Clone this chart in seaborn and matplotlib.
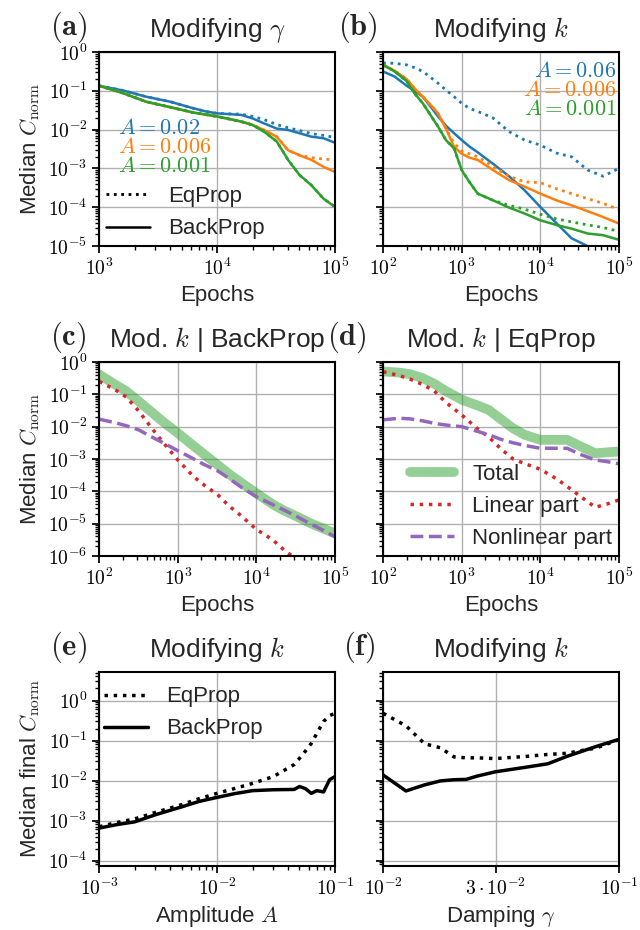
import numpy as np
import pandas as pd
import seaborn as sns
import matplotlib.pyplot as plt
from matplotlib.lines import Line2D
from matplotlib.ticker import NullLocator, LogLocator, FuncFormatter, NullFormatter

# ---- data ----
# (a) modifying gamma
epochs_a = [1000, 1600, 2500, 4000, 6300, 8000, 10000, 16000, 20000, 25000,
            32000, 40000, 50000, 63000, 80000, 100000]
a_blue_bp = [0.135, 0.102, 0.0708, 0.0525, 0.0355, 0.0295, 0.0263, 0.0240, 0.0195,
             0.0145, 0.0107, 0.0098, 0.0081, 0.0066, 0.0060, 0.0046]
a_blue_ep = [0.135, 0.102, 0.0708, 0.0525, 0.0355, 0.0295, 0.0263, 0.0251, 0.0219,
             0.0182, 0.0135, 0.0112, 0.0095, 0.0079, 0.0071, 0.0063]
a_orange_bp = [0.135, 0.0871, 0.0525, 0.0380, 0.0275, 0.0245, 0.0219, 0.0162, 0.0132,
               0.0098, 0.0066, 0.00295, 0.00219, 0.00166, 0.0011, 0.00081]
a_orange_ep = [0.135, 0.0871, 0.0525, 0.0380, 0.0275, 0.0245, 0.0219, 0.0162, 0.0132,
               0.0098, 0.0066, 0.00295, 0.00219, 0.0019, 0.00174, 0.00166]
a_green_bp = [0.135, 0.0871, 0.0525, 0.0380, 0.0275, 0.0245, 0.0219, 0.0162, 0.0132,
              0.0089, 0.0050, 0.00166, 0.00068, 0.00037, 0.000166, 0.000102]
a_green_ep = a_green_bp
a_labels = ["$A=0.02$", "$A=0.006$", "$A=0.001$"]

# (b) modifying k
epochs_b = [100, 140, 200, 250, 320, 400, 500, 630, 800, 1000, 1250, 1600, 2500,
            4000, 6300, 10000, 16000, 25000, 40000, 63000, 100000]
b_blue_bp = [0.316, 0.234, 0.135, 0.1, 0.0708, 0.0398, 0.0219, 0.0126, 0.0081, 0.0054,
             0.0037, 0.0026, 0.00132, 0.00063, 0.000275, 0.000102, 3.9e-5, 1.58e-5,
             1.0e-5, 5.0e-6, 3.2e-6]
b_blue_ep = [0.525, 0.513, 0.468, 0.398, 0.316, 0.224, 0.158, 0.105, 0.0708, 0.0479,
             0.0355, 0.0295, 0.02, 0.0089, 0.0054, 0.004, 0.0025, 0.002, 0.00091,
             0.00063, 0.001]
b_orange_bp = [0.468, 0.331, 0.2, 0.117, 0.0708, 0.0437, 0.0263, 0.0107, 0.0036, 0.0024,
               0.0019, 0.00166, 0.00091, 0.0005, 0.00034, 0.000224, 0.000151, 0.000112,
               7.9e-5, 5.6e-5, 3.8e-5]
b_orange_ep = [0.468, 0.331, 0.2, 0.117, 0.0708, 0.0437, 0.0263, 0.0107, 0.00447, 0.0028,
               0.0024, 0.002, 0.00112, 0.00063, 0.00045, 0.00043, 0.0003, 0.000224,
               0.000166, 0.000126, 8.7e-5]
b_green_bp = [0.468, 0.316, 0.178, 0.0871, 0.0479, 0.024, 0.012, 0.0054, 0.0033, 0.00091,
              0.00045, 0.000224, 0.000151, 9.8e-5, 6.9e-5, 4.6e-5, 3.5e-5, 2.8e-5,
              2.1e-5, 1.9e-5, 1.45e-5]
b_green_ep = [0.468, 0.316, 0.178, 0.0871, 0.0479, 0.024, 0.012, 0.0054, 0.0033, 0.00091,
              0.00045, 0.000224, 0.000151, 0.000112, 8.9e-5, 6.6e-5, 5.0e-5, 4.2e-5,
              3.5e-5, 3.0e-5, 2.4e-5]
b_labels = ["$A=0.06$", "$A=0.006$", "$A=0.001$"]

# (c), (d) split into linear / nonlinear part
epochs_cd = [100, 160, 220, 320, 450, 630, 1000, 1600, 2200, 3200, 4500, 6300, 10000,
             16000, 22000, 32000, 50000, 70000, 100000]
c_total = [0.41, 0.2, 0.126, 0.06, 0.03, 0.015, 0.0063, 0.0025, 0.00135, 0.00066,
           0.00034, 0.00019, 8.7e-5, 4.0e-5, 2.6e-5, 1.7e-5, 1.0e-5, 7.1e-6, 5.0e-6]
c_linear = [0.25, 0.138, 0.083, 0.03, 0.01, 0.00355, 0.00093, 0.00028, 0.000151, 7.9e-5,
            3.5e-5, 1.8e-5, 6.6e-6, 3.2e-6, 1.6e-6, 8e-7, 3.2e-7, 1.6e-7, 8e-8]
c_nonlinear = [0.017, 0.0132, 0.0107, 0.0079, 0.005, 0.0033, 0.0018, 0.001, 0.00066,
               0.00043, 0.00025, 0.000138, 6.8e-5, 3.9e-5, 2.7e-5, 1.7e-5, 9.5e-6,
               6.3e-6, 3.9e-6]
d_total = [0.51, 0.47, 0.42, 0.316, 0.21, 0.126, 0.068, 0.045, 0.033, 0.0166, 0.0089,
           0.0056, 0.0039, 0.0039, 0.0039, 0.0025, 0.0015, 0.0016, 0.0017]
d_linear = [0.5, 0.38, 0.295, 0.2, 0.126, 0.056, 0.023, 0.0085, 0.0048, 0.002, 0.001,
            0.00072, 0.00048, 0.000245, 0.000141, 7.1e-5, 3.2e-5, 4.0e-5, 5.4e-5]
d_nonlinear = [0.0162, 0.0182, 0.0174, 0.0151, 0.0126, 0.0112, 0.01, 0.0071, 0.0056,
               0.004, 0.00316, 0.00263, 0.00214, 0.00214, 0.00214, 0.0014, 0.00093,
               0.00083, 0.00071]

# (e) final cost vs amplitude
amplitude = [0.001, 0.0014, 0.002, 0.003, 0.005, 0.007, 0.01, 0.014, 0.02, 0.03, 0.045,
             0.05, 0.056, 0.063, 0.07, 0.08, 0.09, 0.1]
e_bp = [0.00065, 0.00079, 0.00093, 0.0014, 0.0022, 0.003, 0.0038, 0.0047, 0.0056, 0.0059,
        0.006, 0.0071, 0.0063, 0.0048, 0.0056, 0.0052, 0.0105, 0.0126]
e_ep = [0.0007, 0.00089, 0.0011, 0.0016, 0.0025, 0.0035, 0.0048, 0.0063, 0.0085, 0.0126,
        0.025, 0.036, 0.054, 0.085, 0.15, 0.3, 0.42, 0.48]

# (f) final cost vs damping
damping = [0.01, 0.0125, 0.015, 0.0175, 0.02, 0.0225, 0.025, 0.03, 0.04, 0.05, 0.06,
           0.08, 0.1]
f_bp = [0.0138, 0.0055, 0.0078, 0.0098, 0.0105, 0.0107, 0.0129, 0.0166, 0.0214, 0.0263,
        0.04, 0.071, 0.107]
f_ep = [0.48, 0.234, 0.083, 0.066, 0.039, 0.037, 0.037, 0.0355, 0.04, 0.045, 0.048,
        0.065, 0.105]

colors = ["#1f77b4", "#ff7f0e", "#2ca02c"]
c_green, c_red, c_purple = "#2ca02c", "#d62728", "#9467bd"

# ---- style ----
sns.set_theme(style="ticks")
plt.rcParams.update({
    "font.family": ["Liberation Sans", "DejaVu Sans"],
    "mathtext.fontset": "cm",
    "axes.edgecolor": "black",
    "axes.linewidth": 1.5,
    "xtick.color": "black",
    "ytick.color": "black",
    "xtick.direction": "out",
    "ytick.direction": "out",
    "xtick.major.size": 5,
    "ytick.major.size": 5,
    "xtick.minor.size": 3,
    "ytick.minor.size": 3,
    "xtick.labelsize": 14,
    "ytick.labelsize": 14,
    "axes.labelsize": 16,
    "axes.titlesize": 19,
    "legend.fontsize": 16,
    "grid.color": "#b0b0b0",
    "grid.linewidth": 1.0,
})

fig, axes = plt.subplots(3, 2, figsize=(6.4, 9.3), dpi=100, sharey="row")
fig.subplots_adjust(left=0.155, right=0.967, bottom=0.069, top=0.944,
                    wspace=0.204, hspace=0.598)


def line(ax, x, y, **kw):
    sns.lineplot(x=x, y=y, ax=ax, legend=False, **kw)


def pow10(v, pos):
    return r"$10^{%d}$" % int(round(np.log10(v)))


def log_axis(axis):
    axis.set_major_locator(LogLocator(base=10, numticks=20))
    axis.set_minor_locator(LogLocator(base=10, subs=np.arange(2, 10) * 1.0, numticks=20))
    axis.set_major_formatter(FuncFormatter(pow10))
    axis.set_minor_formatter(NullFormatter())


# (a)
ax = axes[0, 0]
for col, bp, ep in zip(colors, [a_blue_bp, a_orange_bp, a_green_bp],
                       [a_blue_ep, a_orange_ep, a_green_ep]):
    line(ax, epochs_a, ep, color=col, linestyle=":", lw=2)
    line(ax, epochs_a, bp, color=col, lw=1.8)
for i, (lab, col) in enumerate(zip(a_labels, colors)):
    ax.text(0.08, 0.608 - 0.099 * i, lab, color=col, fontsize=16,
            transform=ax.transAxes, va="center", ha="left")
handles = [Line2D([], [], color="black", ls=":", lw=2),
           Line2D([], [], color="black", lw=1.8)]
ax.legend(handles, ["EqProp", "BackProp"], loc="lower left", frameon=False,
          borderaxespad=0.0, borderpad=0.3)
ax.set_xlim(1e3, 1e5)

# (b)
ax = axes[0, 1]
for col, bp, ep in zip(colors, [b_blue_bp, b_orange_bp, b_green_bp],
                       [b_blue_ep, b_orange_ep, b_green_ep]):
    line(ax, epochs_b, ep, color=col, linestyle=":", lw=2)
    line(ax, epochs_b, bp, color=col, lw=1.8)
for i, (lab, col) in enumerate(zip(b_labels, colors)):
    ax.text(0.99, 0.902 - 0.099 * i, lab, color=col, fontsize=16,
            transform=ax.transAxes, va="center", ha="right")
ax.set_xlim(1e2, 1e5)

for ax in axes[0]:
    ax.set_xscale("log")
    ax.set_yscale("log")
    ax.set_ylim(1e-5, 1)
    ax.set_xlabel("Epochs")

# (c), (d)
for ax, tot, lin, nonlin in [(axes[1, 0], c_total, c_linear, c_nonlinear),
                             (axes[1, 1], d_total, d_linear, d_nonlinear)]:
    line(ax, epochs_cd, tot, color=c_green, lw=7, alpha=0.5)
    line(ax, epochs_cd, lin, color=c_red, linestyle=":", lw=2.5)
    line(ax, epochs_cd, nonlin, color=c_purple, linestyle="--", lw=2.5)
    ax.set_xscale("log")
    ax.set_yscale("log")
    ax.set_xlim(1e2, 1e5)
    ax.set_ylim(1e-6, 1)
    ax.set_xlabel("Epochs")
handles = [Line2D([], [], color=c_green, lw=7, alpha=0.5),
           Line2D([], [], color=c_red, ls=":", lw=2.5),
           Line2D([], [], color=c_purple, ls="--", lw=2.5)]
axes[1, 1].legend(handles, ["Total", "Linear part", "Nonlinear part"],
                  loc="lower right", frameon=False, borderaxespad=0.0, borderpad=0.3)

# (e)
ax = axes[2, 0]
line(ax, amplitude, e_ep, color="black", linestyle=":", lw=2.5)
line(ax, amplitude, e_bp, color="black", lw=2.5)
handles = [Line2D([], [], color="black", ls=":", lw=2.5),
           Line2D([], [], color="black", lw=2.5)]
ax.legend(handles, ["EqProp", "BackProp"], loc="upper left", frameon=False,
          bbox_to_anchor=(-0.01, 0.96), borderaxespad=0.0, borderpad=0.3)
ax.set_xscale("log")
ax.set_yscale("log")
ax.set_xlim(1e-3, 1e-1)
ax.set_xlabel("Amplitude $A$")

# (f)
ax = axes[2, 1]
line(ax, damping, f_ep, color="black", linestyle=":", lw=2.5)
line(ax, damping, f_bp, color="black", lw=2.5)
ax.set_xscale("log")
ax.set_yscale("log")
ax.set_xlim(1e-2, 1e-1)
ax.set_xlabel(r"Damping $\gamma$")

for ax in axes.flat:
    log_axis(ax.yaxis)
for ax in list(axes[:, 0]) + [axes[0, 1], axes[1, 1]]:
    log_axis(ax.xaxis)
axes[2, 1].set_xticks([0.01, 0.03, 0.1], [r"$10^{-2}$", r"$3\cdot10^{-2}$", r"$10^{-1}$"])
axes[2, 1].xaxis.set_minor_locator(NullLocator())
axes[2, 0].set_ylim(7.4e-5, 5.2)
axes[2, 0].set_xlim(1e-3, 1e-1)

# titles, labels, panel letters
titles = [r"Modifying $\gamma$", r"Modifying $k$", r"Mod. $k$ | BackProp",
          r"Mod. $k$ | EqProp", r"Modifying $k$", r"Modifying $k$"]
letters = ["a", "b", "c", "d", "e", "f"]
letter_x = [-0.209, -0.19, -0.209, -0.24, -0.209, -0.17]
for ax, t, l, lx in zip(axes.flat, titles, letters, letter_x):
    ax.set_title(t, pad=11)
    ax.text(lx, 1.088, r"$\mathbf{(%s)}$" % l, transform=ax.transAxes,
            fontsize=22, ha="left", va="baseline")
    ax.grid(True, which="major")
    ax.set_axisbelow(True)
    for s in ax.spines.values():
        s.set_visible(True)
        s.set_color("black")
axes[0, 0].set_ylabel(r"Median $C_\mathrm{norm}$")
axes[1, 0].set_ylabel(r"Median $C_\mathrm{norm}$")
axes[2, 0].set_ylabel(r"Median final $C_\mathrm{norm}$")

fig.savefig("out.png", dpi=100)
